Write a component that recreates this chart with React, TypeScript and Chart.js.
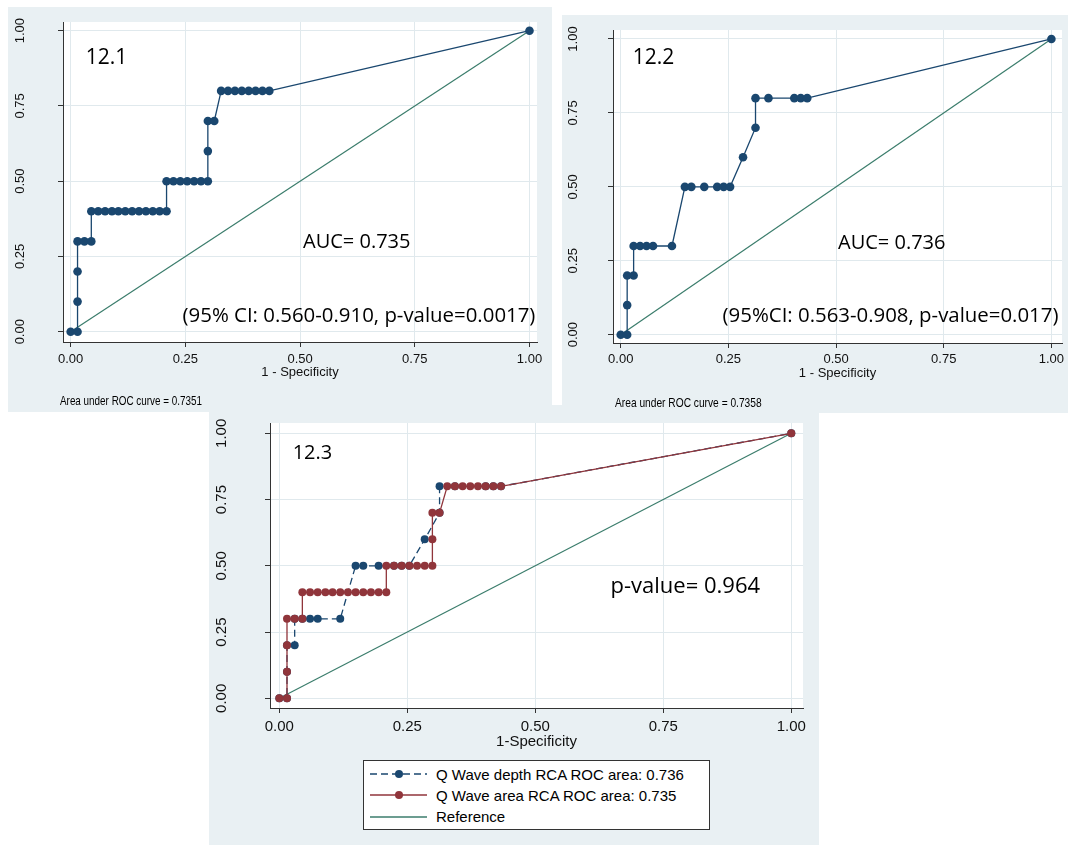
import React, { useEffect, useRef } from "react";
import { Chart, registerables } from "chart.js";

Chart.register(...registerables);

// ---------------- data ----------------
const tickValues = [0, 0.25, 0.5, 0.75, 1];
const tickLabels = ["0.00", "0.25", "0.50", "0.75", "1.00"];

// Q Wave area RCA (panel 12.1, red curve in 12.3)
const areaFpr = [0, 0.015, 0.015, 0.015, 0.015, 0.030, 0.045, 0.045, 0.060, 0.075, 0.090, 0.104, 0.119, 0.134, 0.149, 0.164, 0.179, 0.194, 0.209, 0.209, 0.224, 0.239, 0.254, 0.269, 0.284, 0.299, 0.299, 0.299, 0.313, 0.328, 0.343, 0.358, 0.373, 0.388, 0.403, 0.418, 0.433, 1];
const areaTpr = [0, 0, 0.1, 0.2, 0.3, 0.3, 0.3, 0.4, 0.4, 0.4, 0.4, 0.4, 0.4, 0.4, 0.4, 0.4, 0.4, 0.4, 0.4, 0.5, 0.5, 0.5, 0.5, 0.5, 0.5, 0.5, 0.6, 0.7, 0.7, 0.8, 0.8, 0.8, 0.8, 0.8, 0.8, 0.8, 0.8, 1];

// Q Wave depth RCA (panel 12.2, blue dashed curve in 12.3)
const depthFpr = [0, 0.015, 0.015, 0.015, 0.030, 0.030, 0.045, 0.060, 0.075, 0.119, 0.149, 0.164, 0.194, 0.224, 0.239, 0.254, 0.284, 0.313, 0.313, 0.343, 0.403, 0.418, 0.433, 1];
const depthTpr = [0, 0, 0.1, 0.2, 0.2, 0.3, 0.3, 0.3, 0.3, 0.3, 0.5, 0.5, 0.5, 0.5, 0.5, 0.5, 0.6, 0.7, 0.8, 0.8, 0.8, 0.8, 0.8, 1];

// Reference diagonal
const refFpr = [0, 1];
const refTpr = [0, 1];

const legendLabels = [
  "Q Wave depth RCA ROC area: 0.736",
  "Q Wave area RCA ROC area: 0.735",
  "Reference",
];

// ---------------- styles ----------------
const BG = "#e9f0f3";
const GRID = "#e0e9ed";
const AXIS = "#333333";
const TXT = "#111111";
const NAVY = "#1a476f";
const MAROON = "#90353b";
const REF = "#3b7d6c";
const FONT = "'Liberation Sans', Arial, Helvetica, sans-serif";
const ANNOT_FONT = "'Open Sans', 'Noto Sans', sans-serif";
const TICK_LEN = 5;

type Series = { fpr: number[]; tpr: number[]; color: string; dash: number[]; radius: number; width: number };
type PanelCfg = {
  left: number; top: number; width: number; height: number;
  pad: { left: number; right: number; top: number; bottom: number };
  yW: number; xH: number;
  xMin: number; xMax: number; yMin: number; yMax: number;
  tickSize: number; yLabelCenter: number; xTickPad: number;
  title: string; titleSize: number; titlePadBottom: number;
  series: Series[];
};

const refSeries: Series = { fpr: refFpr, tpr: refTpr, color: REF, dash: [], radius: 0, width: 1.2 };

const panels: PanelCfg[] = [
  {
    left: 8, top: 7, width: 544, height: 405,
    pad: { left: 0, right: 15, top: 15, bottom: 25 },
    yW: 55, xH: 45,
    xMin: -0.0167, xMax: 1.0164, yMin: -0.0342, yMax: 1.0289,
    tickSize: 13, yLabelCenter: 12, xTickPad: 4.2,
    title: "1 - Specificity", titleSize: 13, titlePadBottom: 7.2,
    series: [
      { fpr: areaFpr, tpr: areaTpr, color: NAVY, dash: [], radius: 4.3, width: 1.3 },
      refSeries,
    ],
  },
  {
    left: 562, top: 15, width: 506, height: 398,
    pad: { left: 0, right: 6, top: 15, bottom: 25 },
    yW: 51, xH: 45,
    xMin: -0.0179, xMax: 1.0246, yMin: -0.0281, yMax: 1.0304,
    tickSize: 13, yLabelCenter: 11.3, xTickPad: 3.9,
    title: "1 - Specificity", titleSize: 13, titlePadBottom: 7.2,
    series: [
      { fpr: depthFpr, tpr: depthTpr, color: NAVY, dash: [], radius: 4.3, width: 1.3 },
      refSeries,
    ],
  },
  {
    left: 209, top: 405, width: 610, height: 440,
    pad: { left: 0, right: 16, top: 18, bottom: 92 },
    yW: 61, xH: 45,
    xMin: -0.0182, xMax: 1.0229, yMin: -0.0366, yMax: 1.0389,
    tickSize: 15, yLabelCenter: 13.3, xTickPad: 4.7,
    title: "1-Specificity", titleSize: 15, titlePadBottom: 2.3,
    series: [
      { fpr: areaFpr, tpr: areaTpr, color: MAROON, dash: [], radius: 4, width: 1.3 },
      { fpr: depthFpr, tpr: depthTpr, color: NAVY, dash: [7, 4], radius: 4, width: 1.3 },
      refSeries,
    ],
  },
];

const whiteArea = {
  id: "whiteArea",
  beforeDraw(chart: any) {
    const { ctx, chartArea: a } = chart;
    ctx.save();
    ctx.fillStyle = "#ffffff";
    ctx.fillRect(a.left, a.top, a.right - a.left, a.bottom - a.top);
    ctx.restore();
  },
};

function RocPanel({ cfg }: { cfg: PanelCfg }) {
  const ref = useRef<HTMLCanvasElement>(null);
  useEffect(() => {
    const canvas = ref.current!;
    const mctx = document.createElement("canvas").getContext("2d")!;
    mctx.font = `${cfg.tickSize}px ${FONT}`;
    const widest = Math.max(...tickLabels.map((t) => mctx.measureText(t).width));
    const yPad = cfg.yW - TICK_LEN - widest / 2 - cfg.yLabelCenter;
    const tickFont = { family: FONT, size: cfg.tickSize };
    const cb = (v: any) => {
      const i = tickValues.indexOf(Number(v));
      return i >= 0 ? tickLabels[i] : "";
    };
    const grid = { color: GRID, lineWidth: 1, drawTicks: true, tickLength: TICK_LEN, tickColor: AXIS, tickWidth: 1 };
    const border = { display: true, color: AXIS, width: 1 };
    const chart = new Chart(canvas, {
      type: "scatter",
      data: {
        datasets: cfg.series.map((s) => ({
          data: s.fpr.map((x, i) => ({ x, y: s.tpr[i] })),
          showLine: true,
          borderColor: s.color,
          backgroundColor: s.color,
          pointBackgroundColor: s.color,
          pointBorderColor: s.color,
          pointBorderWidth: 0,
          pointRadius: s.radius,
          pointHoverRadius: s.radius,
          borderWidth: s.width,
          borderDash: s.dash,
          tension: 0,
          clip: false as any,
        })),
      },
      options: {
        animation: false,
        responsive: false,
        maintainAspectRatio: false,
        devicePixelRatio: 1,
        events: [],
        layout: { padding: cfg.pad },
        plugins: { legend: { display: false }, tooltip: { enabled: false } },
        scales: {
          x: {
            type: "linear",
            position: "bottom",
            min: cfg.xMin,
            max: cfg.xMax,
            afterBuildTicks: (s: any) => { s.ticks = tickValues.map((v) => ({ value: v })); },
            afterFit: (s: any) => { s.height = cfg.xH; s.paddingLeft = 0; s.paddingRight = 0; },
            grid,
            border,
            ticks: { autoSkip: false, minRotation: 0, maxRotation: 0, padding: cfg.xTickPad, color: TXT, font: tickFont, callback: cb },
            title: { display: true, text: cfg.title, color: TXT, font: { family: FONT, size: cfg.titleSize }, padding: { top: 0, bottom: cfg.titlePadBottom } },
          },
          y: {
            type: "linear",
            position: "left",
            min: cfg.yMin,
            max: cfg.yMax,
            afterBuildTicks: (s: any) => { s.ticks = tickValues.map((v) => ({ value: v })); },
            afterFit: (s: any) => { s.width = cfg.yW; s.paddingTop = 0; s.paddingBottom = 0; },
            grid,
            border,
            ticks: { autoSkip: false, minRotation: 90, maxRotation: 90, crossAlign: "center", padding: yPad, color: TXT, font: tickFont, callback: cb },
          },
        },
      } as any,
      plugins: [whiteArea],
    });
    return () => chart.destroy();
  }, [cfg]);
  return (
    <canvas
      ref={ref}
      width={cfg.width}
      height={cfg.height}
      style={{ position: "absolute", left: cfg.left, top: cfg.top, width: cfg.width, height: cfg.height, background: BG, display: "block" }}
    />
  );
}

function Text({ x, y, size, text, family = ANNOT_FONT, sx = 1 }: { x: number; y: number; size: number; text: string; family?: string; sx?: number }) {
  return (
    <div
      style={{
        position: "absolute", left: x, top: y, fontSize: size, fontFamily: family, lineHeight: 1,
        whiteSpace: "nowrap", color: "#000", transform: sx !== 1 ? `scaleX(${sx})` : undefined, transformOrigin: "left center",
      }}
    >
      {text}
    </div>
  );
}

function LegendSample({ color, dash, marker }: { color: string; dash: boolean; marker: boolean }) {
  return (
    <svg width={58} height={12} style={{ position: "absolute", left: 7, top: -6 }}>
      <line x1={0} y1={6} x2={57} y2={6} stroke={color} strokeWidth={1.3} strokeDasharray={dash ? "7 4" : undefined} />
      {marker && <circle cx={29} cy={6} r={4} fill={color} />}
    </svg>
  );
}

function Legend() {
  const rows = [
    { color: NAVY, dash: true, marker: true, cy: 14 },
    { color: MAROON, dash: false, marker: true, cy: 35 },
    { color: REF, dash: false, marker: false, cy: 56.7 },
  ];
  return (
    <div style={{ position: "absolute", left: 363, top: 760, width: 347, height: 70, boxSizing: "border-box", background: "#fff", border: `1px solid ${AXIS}` }}>
      {rows.map((r, i) => (
        <div key={i} style={{ position: "absolute", left: -1, top: r.cy - 1, width: 340, height: 0 }}>
          <LegendSample color={r.color} dash={r.dash} marker={r.marker} />
          <div style={{ position: "absolute", left: 73, top: -7.3, fontFamily: FONT, fontSize: 15, lineHeight: 1, whiteSpace: "nowrap", color: "#000" }}>
            {legendLabels[i]}
          </div>
        </div>
      ))}
    </div>
  );
}

export default function App() {
  return (
    <div style={{ position: "absolute", left: 0, top: 0, width: 1068, height: 845, background: "#fff", overflow: "hidden" }}>
      {panels.map((p, i) => (
        <RocPanel key={i} cfg={p} />
      ))}
      <Text x={85.7} y={45.6} size={21} text="12.1" />
      <Text x={303} y={231.4} size={20} text="AUC= 0.735" />
      <Text x={182.6} y={304.2} size={20.4} text="(95% CI: 0.560-0.910, p-value=0.0017)" />
      <Text x={60} y={393.7} size={13} text="Area under ROC curve = 0.7351" family={FONT} sx={0.76} />

      <Text x={632.7} y={45.6} size={21} text="12.2" />
      <Text x={838} y={232.4} size={20} text="AUC= 0.736" />
      <Text x={722.6} y={304.2} size={20.4} text="(95%CI: 0.563-0.908, p-value=0.017)" />
      <Text x={615} y={396} size={13} text="Area under ROC curve = 0.7358" family={FONT} sx={0.785} />

      <Text x={292.7} y={441.5} size={20} text="12.3" />
      <Text x={610.5} y={573.3} size={22} text="p-value= 0.964" />
      <Legend />
    </div>
  );
}
